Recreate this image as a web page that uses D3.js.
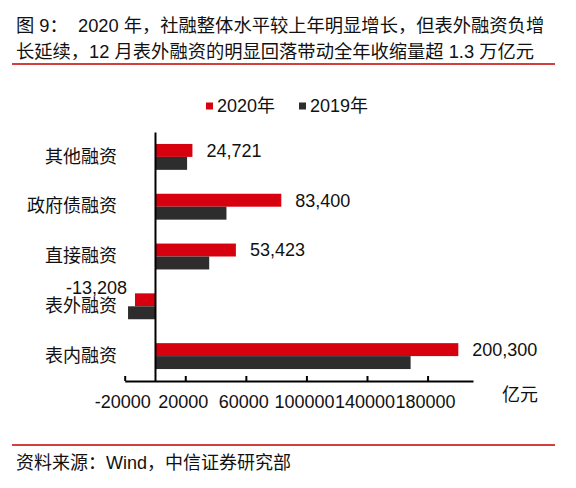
<!DOCTYPE html>
<html>
<head>
<meta charset="utf-8">
<script src="https://cdn.jsdelivr.net/npm/d3@7"></script>
<style>
  body { margin: 0; background: #fff; }
  svg text { font-family: "Liberation Sans", Arial, "Noto Sans CJK SC", sans-serif; fill: #111; }
</style>
</head>
<body>
<div id="chart"></div>
<script>
const categories = ["其他融资", "政府债融资", "直接融资", "表外融资", "表内融资"];
const seriesNames = ["2020年", "2019年"];
const values2020 = [24721, 83400, 53423, -13208, 200300];
const values2019 = [21200, 47204, 35800, -17800, 168800];
const xTicks = [-20000, 20000, 60000, 100000, 140000, 180000];
const titleLines = [
    "图 9：  2020 年，社融整体水平较上年明显增长，但表外融资负增",
    "长延续，12 月表外融资的明显回落带动全年收缩量超 1.3 万亿元"
];
const unitLabel = "亿元";
const sourceText = "资料来源：Wind，中信证券研究部";

const W = 576, H = 488;
const colors = ["#d7000f", "#2d2d2d"];
const fmt = d3.formatLocale({decimal: ".", thousands: ",", grouping: [3], currency: ["", ""], minus: "-"}).format(",");

const svg = d3.select("#chart").append("svg")
    .attr("width", W)
    .attr("height", H);

// title
svg.selectAll(".title")
    .data(titleLines)
    .enter().append("text")
    .attr("class", "title")
    .attr("x", 16)
    .attr("y", (d, i) => 32 + i * 26)
    .style("font-size", "18.3px")
    .style("white-space", "pre")
    .text(d => d);

svg.append("line")
    .attr("x1", 12).attr("x2", 555)
    .attr("y1", 64).attr("y2", 64)
    .attr("stroke", "#c00000").attr("stroke-width", 1.5);

// scales
const x = d3.scaleLinear().domain([-20000, 210000]).range([124.7, 473]);
const y = d3.scaleBand().domain(categories).range([132, 381]).paddingInner(0.48).paddingOuter(0.24);
const sub = d3.scaleBand().domain(seriesNames).range([0, y.bandwidth()]);

const series = [values2020, values2019];
const rows = [];
series.forEach((vals, s) => vals.forEach((v, i) => rows.push({cat: categories[i], s: s, v: v})));

svg.append("g").selectAll("rect")
    .data(rows)
    .enter().append("rect")
    .attr("x", d => x(Math.min(0, d.v)))
    .attr("width", d => Math.abs(x(d.v) - x(0)))
    .attr("y", d => y(d.cat) + sub(seriesNames[d.s]))
    .attr("height", sub.bandwidth())
    .attr("fill", d => colors[d.s]);

// value labels (2020 only)
svg.append("g").selectAll("text")
    .data(values2020)
    .enter().append("text")
    .attr("x", d => d < 0 ? x(d) - 8 : x(d) + 14)
    .attr("y", (d, i) => y(categories[i]) + sub.bandwidth() / 2 + (d < 0 ? -12 : 0))
    .attr("dy", "0.35em")
    .attr("text-anchor", d => d < 0 ? "end" : "start")
    .style("font-size", "18px")
    .text(d => fmt(d));

// x axis
const xAxis = svg.append("g")
    .attr("transform", "translate(0,381)")
    .call(d3.axisBottom(x).tickValues(xTicks).tickSizeInner(-5).tickSizeOuter(0)
        .tickPadding(14.5).tickFormat(d => String(d)));
xAxis.select(".domain").attr("stroke", "#000").attr("stroke-width", 2);
xAxis.selectAll(".tick line").attr("stroke", "#000").attr("stroke-width", 2);
xAxis.selectAll(".tick text").style("font-size", "18px").attr("fill", "#111").attr("dx", -2.5)
    .style("font-family", "\"Liberation Sans\", Arial, sans-serif");

// category axis at zero
const yAxis = svg.append("g")
    .attr("transform", "translate(" + x(0) + ",0)")
    .call(d3.axisLeft(y).tickSize(0).tickPadding(38));
yAxis.select(".domain").attr("stroke", "#000").attr("stroke-width", 2);
yAxis.selectAll(".tick text").style("font-size", "18px").attr("fill", "#111")
    .style("font-family", "\"Liberation Sans\", Arial, \"Noto Sans CJK SC\", sans-serif");

svg.append("text")
    .attr("x", 502).attr("y", 395).attr("dy", "0.35em")
    .style("font-size", "18px")
    .text(unitLabel);

// legend
const legendX = [206, 299];
const legend = svg.append("g").selectAll("g")
    .data(seriesNames)
    .enter().append("g")
    .attr("transform", (d, i) => "translate(" + legendX[i] + ",106)");
legend.append("rect")
    .attr("x", 0).attr("y", -3.5)
    .attr("width", 7).attr("height", 7)
    .attr("fill", (d, i) => colors[i]);
legend.append("text")
    .attr("x", 11).attr("dy", "0.35em")
    .style("font-size", "18px")
    .text(d => d);

// source
svg.append("line")
    .attr("x1", 12).attr("x2", 555)
    .attr("y1", 445).attr("y2", 445)
    .attr("stroke", "#c00000").attr("stroke-width", 1.5);
svg.append("text")
    .attr("x", 16).attr("y", 463).attr("dy", "0.35em")
    .style("font-size", "18px")
    .text(sourceText);
</script>
</body>
</html>
